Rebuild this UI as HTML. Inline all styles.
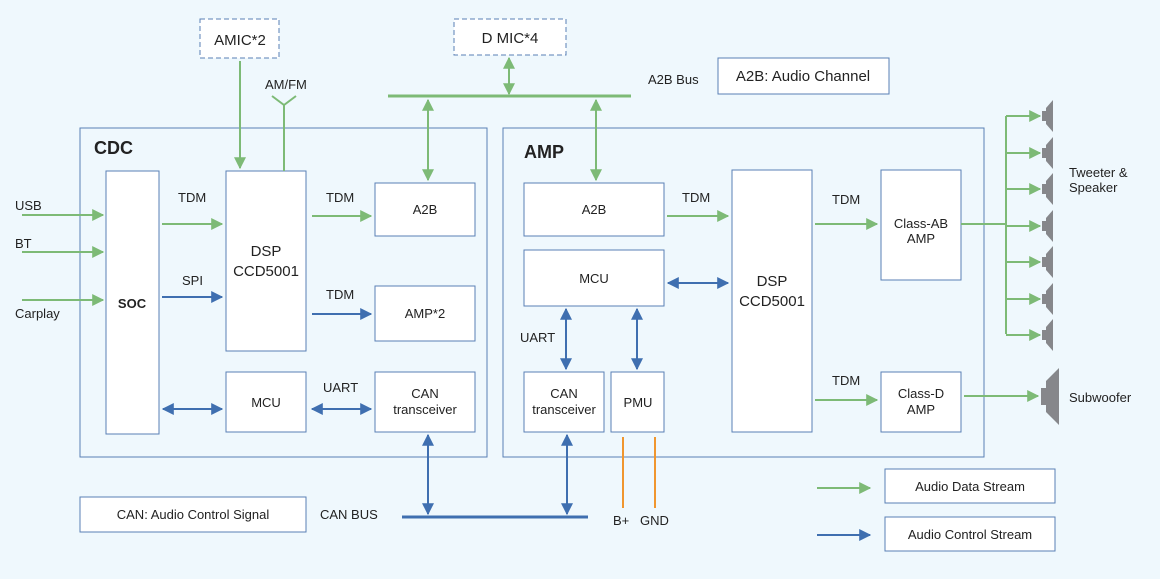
<!DOCTYPE html>
<html><head><meta charset="utf-8"><style>
body{margin:0;background:#eff8fd;}
svg{display:block;font-family:"Liberation Sans",sans-serif;}
text{fill:#222;}
</style></head><body>
<svg width="1160" height="579" viewBox="0 0 1160 579" font-size="13">
<defs>
<marker id="g" viewBox="0 0 10 10" refX="9" refY="5" markerWidth="6" markerHeight="6" orient="auto-start-reverse"><path d="M0,0L10,5L0,10z" fill="#7dba76"/></marker>
<marker id="b" viewBox="0 0 10 10" refX="9" refY="5" markerWidth="6" markerHeight="6" orient="auto-start-reverse"><path d="M0,0L10,5L0,10z" fill="#3f6fb0"/></marker>
<g id="sp"><rect x="1042" y="-5" width="4" height="10"/><path d="M1046 -8L1053 -16V16L1046 8z"/></g>
</defs>
<rect width="1160" height="579" fill="#eff8fd"/>
<g fill="none" stroke="#5a7fb5" stroke-width="1">
<rect x="80" y="128" width="407" height="329"/>
<rect x="503" y="128" width="481" height="329"/>
</g>
<g fill="#fff" stroke="#5a7fb5" stroke-width="1">
<rect x="106" y="171" width="53" height="263"/>
<rect x="226" y="171" width="80" height="180"/>
<rect x="375" y="183" width="100" height="53"/>
<rect x="375" y="286" width="100" height="55"/>
<rect x="226" y="372" width="80" height="60"/>
<rect x="375" y="372" width="100" height="60"/>
<rect x="524" y="183" width="140" height="53"/>
<rect x="524" y="250" width="140" height="56"/>
<rect x="732" y="170" width="80" height="262"/>
<rect x="524" y="372" width="80" height="60"/>
<rect x="611" y="372" width="53" height="60"/>
<rect x="881" y="170" width="80" height="110"/>
<rect x="881" y="372" width="80" height="60"/>
<rect x="718" y="58" width="171" height="36"/>
<rect x="885" y="469" width="170" height="34"/>
<rect x="885" y="517" width="170" height="34"/>
<rect x="80" y="497" width="226" height="35"/>
<rect x="200" y="19" width="79" height="39" stroke-dasharray="5,3"/>
<rect x="454" y="19" width="112" height="36" stroke-dasharray="5,3"/>
</g>
<text x="94" y="154" font-size="18" font-weight="bold">CDC</text>
<text x="524" y="158" font-size="18" font-weight="bold">AMP</text>
<g text-anchor="middle">
<text x="132" y="308" font-weight="bold">SOC</text>
<text x="266" y="256" font-size="15">DSP</text><text x="266" y="276" font-size="15">CCD5001</text>
<text x="425" y="214">A2B</text>
<text x="425" y="318">AMP*2</text>
<text x="266" y="407">MCU</text>
<text x="425" y="398">CAN</text><text x="425" y="414">transceiver</text>
<text x="594" y="214">A2B</text>
<text x="594" y="283">MCU</text>
<text x="772" y="286" font-size="15">DSP</text><text x="772" y="306" font-size="15">CCD5001</text>
<text x="564" y="398">CAN</text><text x="564" y="414">transceiver</text>
<text x="638" y="407">PMU</text>
<text x="921" y="228">Class-AB</text><text x="921" y="243">AMP</text>
<text x="921" y="398">Class-D</text><text x="921" y="414">AMP</text>
<text x="803" y="81" font-size="15">A2B: Audio Channel</text>
<text x="970" y="491">Audio Data Stream</text>
<text x="970" y="539">Audio Control Stream</text>
<text x="193" y="519">CAN: Audio Control Signal</text>
<text x="240" y="45" font-size="15">AMIC*2</text>
<text x="510" y="43" font-size="15">D MIC*4</text>
</g>
<text x="15" y="210">USB</text><text x="15" y="248">BT</text><text x="15" y="318">Carplay</text>
<text x="178" y="202">TDM</text><text x="182" y="285">SPI</text>
<text x="326" y="202">TDM</text><text x="326" y="299">TDM</text><text x="323" y="392">UART</text>
<text x="682" y="202">TDM</text><text x="520" y="342">UART</text>
<text x="832" y="204">TDM</text><text x="832" y="385">TDM</text>
<text x="265" y="89">AM/FM</text><text x="648" y="84">A2B Bus</text>
<text x="320" y="519">CAN BUS</text>
<text x="613" y="525">B+</text><text x="640" y="525">GND</text>
<text x="1069" y="177">Tweeter &amp;</text><text x="1069" y="192">Speaker</text>
<text x="1069" y="402">Subwoofer</text>
<g stroke="#7dba76" stroke-width="2" fill="none">
<path d="M22 215H103" marker-end="url(#g)"/>
<path d="M22 252H103" marker-end="url(#g)"/>
<path d="M22 300H103" marker-end="url(#g)"/>
<path d="M162 224H222" marker-end="url(#g)"/>
<path d="M312 216H371" marker-end="url(#g)"/>
<path d="M240 61V168" marker-end="url(#g)"/>
<path d="M284 171V105M272 96L284 105L296 96"/>
<path d="M388 96H631" stroke-width="3"/>
<path d="M428 100V180" marker-start="url(#g)" marker-end="url(#g)"/>
<path d="M509 58V94" marker-start="url(#g)" marker-end="url(#g)"/>
<path d="M596 100V180" marker-start="url(#g)" marker-end="url(#g)"/>
<path d="M667 216H728" marker-end="url(#g)"/>
<path d="M815 224H877" marker-end="url(#g)"/>
<path d="M815 400H877" marker-end="url(#g)"/>
<path d="M961 224H1006M1006 116V334"/>
<path d="M1006 116H1040" marker-end="url(#g)"/>
<path d="M1006 153H1040" marker-end="url(#g)"/>
<path d="M1006 189H1040" marker-end="url(#g)"/>
<path d="M1006 226H1040" marker-end="url(#g)"/>
<path d="M1006 262H1040" marker-end="url(#g)"/>
<path d="M1006 299H1040" marker-end="url(#g)"/>
<path d="M1006 335H1040" marker-end="url(#g)"/>
<path d="M964 396H1038" marker-end="url(#g)"/>
<path d="M817 488H870" marker-end="url(#g)"/>
</g>
<g stroke="#3f6fb0" stroke-width="2" fill="none">
<path d="M162 297H222" marker-end="url(#b)"/>
<path d="M312 314H371" marker-end="url(#b)"/>
<path d="M163 409H222" marker-start="url(#b)" marker-end="url(#b)"/>
<path d="M312 409H371" marker-start="url(#b)" marker-end="url(#b)"/>
<path d="M668 283H728" marker-start="url(#b)" marker-end="url(#b)"/>
<path d="M566 309V369" marker-start="url(#b)" marker-end="url(#b)"/>
<path d="M637 309V369" marker-start="url(#b)" marker-end="url(#b)"/>
<path d="M402 517H588" stroke-width="3"/>
<path d="M428 435V514" marker-start="url(#b)" marker-end="url(#b)"/>
<path d="M567 435V514" marker-start="url(#b)" marker-end="url(#b)"/>
<path d="M817 535H870" marker-end="url(#b)"/>
</g>
<g stroke="#f0962f" stroke-width="2"><path d="M623 437V508M655 437V508"/></g>
<g fill="#86878b">
<use href="#sp" y="116"/><use href="#sp" y="153"/><use href="#sp" y="189"/><use href="#sp" y="226"/><use href="#sp" y="262"/><use href="#sp" y="299"/><use href="#sp" y="335"/>
<rect x="1041" y="388" width="5" height="17"/><path d="M1046 381L1059 368V425L1046 412z"/>
</g>
</svg>
</body></html>
